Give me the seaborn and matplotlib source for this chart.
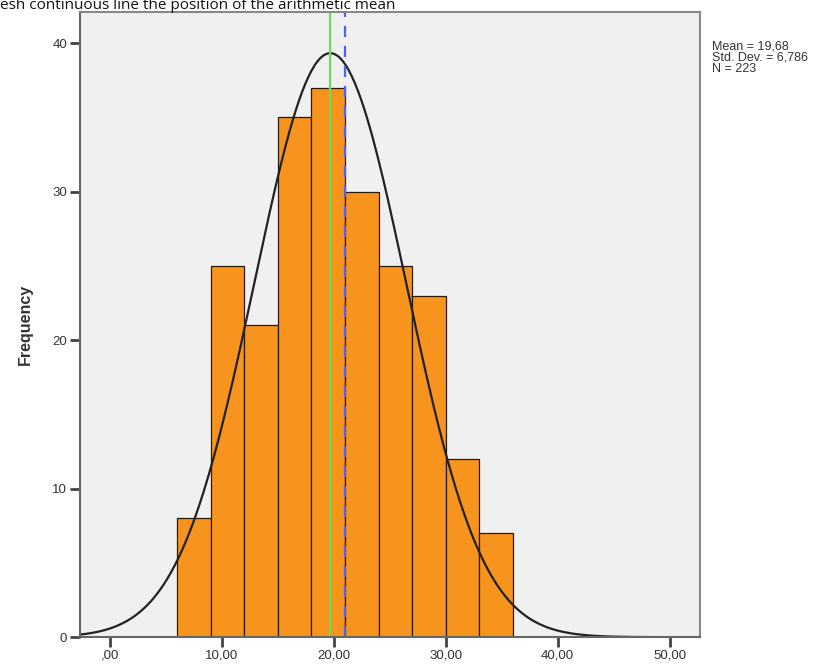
import numpy as np
import pandas as pd
import matplotlib
matplotlib.use("Agg")
import matplotlib.pyplot as plt
import seaborn as sns

# histogram bins (width 3) and counts
bin_edges = [6, 9, 12, 15, 18, 21, 24, 27, 30, 33, 36]
counts = [8, 25, 21, 35, 37, 30, 25, 23, 12, 7]
mean_val = 19.68
sd_val = 6.786
n_val = 223
median_val = 21.0
x_ticks = [0, 10, 20, 30, 40, 50]
x_labels = [",00", "10,00", "20,00", "30,00", "40,00", "50,00"]
y_ticks = [0, 10, 20, 30, 40]

sns.set_style("ticks")
plt.rcParams['font.family'] = ['Liberation Sans', 'DejaVu Sans']

centers = [(a + b) / 2 for a, b in zip(bin_edges[:-1], bin_edges[1:])]
df = pd.DataFrame({"value": centers, "count": counts})

fig = plt.figure(figsize=(8.4, 6.7), dpi=100)
ax = fig.add_axes([0.095, 0.049, 0.738, 0.933])
ax.set_facecolor("#f0f0f0")

sns.histplot(data=df, x="value", weights="count", bins=bin_edges, ax=ax,
             color="#f7941d", alpha=1, edgecolor="#2b1a0a", linewidth=0.9)

# normal curve scaled to the histogram
xs = np.linspace(-2.7, 52.7, 400)
bw = bin_edges[1] - bin_edges[0]
ys = n_val * bw / (sd_val * np.sqrt(2 * np.pi)) * np.exp(-0.5 * ((xs - mean_val) / sd_val) ** 2)
sns.lineplot(x=xs, y=ys, ax=ax, color="#222222", linewidth=1.6)

ax.axvline(mean_val, color="#66e05a", linewidth=1.6)
ax.axvline(median_val, color="#5060f0", linewidth=1.6, linestyle=(0, (5, 4)))

ax.set_xlim(-2.7, 52.7)
ax.set_ylim(0, 42.1)
ax.set_xticks(x_ticks)
ax.set_xticklabels(x_labels)
ax.set_yticks(y_ticks)
ax.tick_params(axis="both", length=7, width=2, color="#444444",
               labelsize=9.5, labelcolor="#333333", pad=2)
ax.set_xlabel("")
ax.set_ylabel("Frequency", fontsize=11.5, fontweight="bold", color="#333333", labelpad=14)

for side in ["left", "bottom", "right", "top"]:
    ax.spines[side].set_visible(True)
    ax.spines[side].set_color("#666666")
    ax.spines[side].set_linewidth(1.5)
ax.spines["right"].set_color("#888888")
ax.spines["top"].set_color("#888888")

fig.text(0.848, 0.94, f"Mean = 19,68\nStd. Dev. = 6,786\nN = {n_val}",
         fontsize=9, color="#333333", va="top", ha="left", linespacing=0.95)

# caption running along the top edge of the image
fig.text(0.0, 0.986, "esh continuous line the position of the arithmetic mean",
         fontsize=11, color="#111111", va="baseline", ha="left", family=["Open Sans", "DejaVu Sans"])

fig.savefig("out.png", dpi=100)
